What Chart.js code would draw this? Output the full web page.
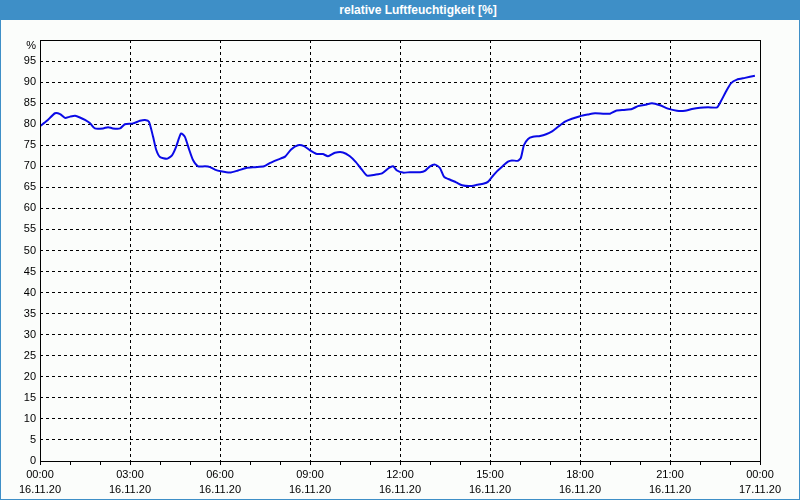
<!DOCTYPE html>
<html>
<head>
<meta charset="utf-8">
<script src="https://cdn.jsdelivr.net/npm/chart.js@4/dist/chart.umd.min.js"></script>
<style>
  html, body { margin: 0; padding: 0; }
  body { width: 800px; height: 500px; background: #3e8fc7; position: relative; overflow: hidden; }
  .title {
    position: absolute; left: 0; top: 0; width: 800px; height: 20px;
    color: #fff; font: bold 12px "Liberation Sans", sans-serif;
    line-height: 20px; text-align: center; text-indent: 36px;
  }
  .panel { position: absolute; left: 1px; top: 20px; width: 798px; height: 479px; background: #fbfdfb; }
  .chart-container { position: absolute; left: 0; top: 0; width: 800px; height: 500px; }
  canvas { display: block; }
</style>
</head>
<body>
<div class="title">relative Luftfeuchtigkeit [%]</div>
<div class="panel"></div>
<div class="chart-container"><canvas id="chart" width="800" height="500"></canvas></div>
<script>
// Hours since 16.11.20 00:00
const hours = [
  0.0, 0.23, 0.5, 0.67, 0.83, 1.0, 1.17, 1.33, 1.5, 1.67, 1.83, 2.1, 2.27, 2.43, 2.67, 2.83,
  3.1, 3.33, 3.5, 3.63, 3.77, 3.87, 4.0, 4.23, 4.4, 4.53, 4.7, 4.83, 4.97, 5.1, 5.27, 5.5,
  5.67, 5.83, 6.03, 6.33, 6.6, 6.87, 7.17, 7.47, 7.67, 7.93, 8.17, 8.37, 8.6, 8.8, 9.0, 9.2,
  9.43, 9.6, 9.83, 10.1, 10.33, 10.53, 10.73, 10.9, 11.17, 11.4, 11.63, 11.77, 11.9, 12.1,
  12.33, 12.67, 12.83, 13.0, 13.17, 13.33, 13.47, 13.67, 13.87, 14.07, 14.33, 14.57, 14.8,
  14.93, 15.07, 15.23, 15.43, 15.6, 15.73, 15.93, 16.03, 16.13, 16.27, 16.43, 16.67, 16.87,
  17.07, 17.27, 17.5, 17.73, 18.0, 18.27, 18.5, 18.77, 19.0, 19.2, 19.47, 19.73, 19.93,
  20.17, 20.4, 20.67, 20.93, 21.23, 21.5, 21.73, 22.0, 22.27, 22.57, 22.7, 22.87, 23.03,
  23.23, 23.5, 23.83
];

// Relative humidity in %
const humidity = [
  79.5, 80.8, 82.6, 82.4, 81.5, 81.8, 82.0, 81.6, 81.0, 80.2, 79.0, 79.0, 79.3, 79.0, 79.0, 80.0,
  80.2, 80.8, 81.0, 80.6, 77.0, 74.0, 72.2, 71.8, 72.6, 74.5, 77.8, 77.0, 74.0, 71.5, 70.0, 70.0,
  69.8, 69.2, 68.8, 68.5, 69.0, 69.6, 69.8, 70.0, 70.8, 71.6, 72.3, 74.0, 75.0, 74.8, 73.8, 73.0,
  72.9, 72.4, 73.2, 73.3, 72.4, 71.0, 69.2, 67.8, 68.0, 68.3, 69.6, 70.0, 69.0, 68.5,
  68.6, 68.6, 68.9, 70.0, 70.4, 69.6, 67.5, 66.8, 66.2, 65.5, 65.3, 65.6, 65.9,
  66.3, 67.5, 68.8, 70.1, 71.1, 71.4, 71.3, 72.0, 75.0, 76.5, 77.0, 77.2, 77.6,
  78.3, 79.4, 80.6, 81.3, 81.9, 82.3, 82.6, 82.5, 82.5, 83.2, 83.4, 83.6, 84.3,
  84.6, 85.0, 84.5, 83.7, 83.2, 83.2, 83.6, 83.9, 84.0, 84.0, 85.5, 87.8, 89.7,
  90.6, 91.0, 91.5
];

// X axis labels every 3 hours
const timeLabels = ['00:00', '03:00', '06:00', '09:00', '12:00', '15:00', '18:00', '21:00', '00:00'];
const dateLabels = ['16.11.20', '16.11.20', '16.11.20', '16.11.20', '16.11.20', '16.11.20', '16.11.20', '16.11.20', '17.11.20'];

const points = hours.map((h, i) => ({ x: h, y: humidity[i] }));

// Draw the black frame around the plot area
const framePlugin = {
  id: 'frame',
  afterDraw(chart) {
    const { ctx, chartArea: a } = chart;
    ctx.save();
    ctx.strokeStyle = '#000';
    ctx.lineWidth = 1;
    ctx.strokeRect(Math.round(a.left) + 0.5, Math.round(a.top) + 0.5,
      Math.round(a.right - a.left), Math.round(a.bottom - a.top));
    ctx.restore();
  }
};

Chart.defaults.font.family = '"Liberation Sans", sans-serif';
Chart.defaults.font.size = 11;
Chart.defaults.color = '#000';

new Chart(document.getElementById('chart'), {
  type: 'line',
  data: {
    datasets: [{
      label: 'relative Luftfeuchtigkeit',
      data: points,
      borderColor: '#0a0ae6',
      borderWidth: 2,
      pointRadius: 0,
      tension: 0.2,
      fill: false
    }]
  },
  options: {
    animation: false,
    responsive: false,
    maintainAspectRatio: false,
    devicePixelRatio: 1,
    layout: { padding: { left: 0, right: 40, top: 40, bottom: 0 } },
    plugins: { legend: { display: false }, tooltip: { enabled: false } },
    scales: {
      x: {
        type: 'linear',
        min: 0,
        max: 24,
        afterBuildTicks: (scale) => {
          scale.ticks = [];
          for (let h = 0; h <= 24; h++) scale.ticks.push({ value: h });
        },
        afterFit: (scale) => { scale.height = 39; },
        ticks: {
          autoSkip: false,
          maxRotation: 0,
          padding: 2,
          font: { lineHeight: 1.4 },
          callback: (v) => (v % 3 === 0) ? [timeLabels[v / 3], dateLabels[v / 3]] : ''
        },
        grid: {
          color: (c) => (c.tick && c.tick.value % 3 === 0 && c.tick.value > 0 && c.tick.value < 24) ? '#000' : 'rgba(0,0,0,0)',
          tickColor: '#000',
          tickLength: 4,
          lineWidth: 1
        },
        border: { display: false, dash: [3, 3] }
      },
      y: {
        min: 0,
        max: 100,
        afterFit: (scale) => { scale.width = 40; },
        ticks: {
          stepSize: 5,
          autoSkip: false,
          maxTicksLimit: 30,
          padding: 4,
          font: { lineHeight: 1.0 },
          // the top label sits a bit below the frame in the original
          callback: (v) => v === 100 ? ['', '%'] : v
        },
        grid: {
          drawTicks: false,
          color: (c) => (c.tick && c.tick.value > 0 && c.tick.value < 100) ? '#000' : 'rgba(0,0,0,0)',
          lineWidth: 1
        },
        border: { display: false, dash: [3, 3] }
      }
    }
  },
  plugins: [framePlugin]
});
</script>
</body>
</html>
